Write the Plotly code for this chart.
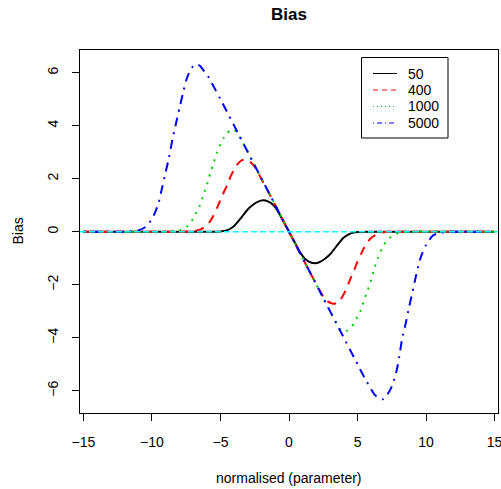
import plotly.graph_objects as go

n50_x = [-15, -6, -5, -4.5, -4.0, -3.5, -3.0, -2.6, -2.25, -1.9, -1.5, -1.25, -1.0, -0.75, -0.5, -0.25, 0,
         0.25, 0.5, 0.75, 1.0, 1.25, 1.5, 1.9, 2.25, 2.6, 3.0, 3.5, 4.0, 4.5, 5, 6, 15]
n50_y = [0, 0, 0.01, 0.06, 0.22, 0.52, 0.85, 1.03, 1.14, 1.19, 1.14, 1.06, 0.92, 0.72, 0.48, 0.24, 0,
         -0.24, -0.48, -0.72, -0.92, -1.06, -1.14, -1.19, -1.14, -1.03, -0.85, -0.52, -0.22, -0.06, -0.01, 0, 0]

n400_x = [-15, -8, -7.0, -6.5, -6.0, -5.75, -5.5, -5.25, -5.0, -4.75, -4.5, -4.25, -4.0, -3.75, -3.5, -3.25,
          -3.0, -2.75, -2.5, -2.25, -1.5, 0, 1.5, 2.25, 2.5, 2.75, 3.0, 3.25, 3.5, 3.75, 4.0, 4.25, 4.5,
          4.75, 5.0, 5.25, 5.5, 5.75, 6.0, 6.5, 7.0, 8, 15]
n400_y = [0, 0, 0.02, 0.08, 0.24, 0.4, 0.62, 0.9, 1.2, 1.5, 1.78, 2.1, 2.35, 2.55, 2.68, 2.72,
          2.68, 2.6, 2.45, 2.22, 1.5, 0, -1.5, -2.22, -2.45, -2.6, -2.68, -2.72, -2.68, -2.57, -2.35,
          -2.08, -1.75, -1.45, -1.12, -0.85, -0.58, -0.38, -0.23, -0.07, -0.01, 0, 0]

n1000_x = [-15, -9, -8.0, -7.5, -7.1, -6.8, -6.5, -6.25, -6.0, -5.75, -5.5, -5.25, -5.0, -4.75, -4.5,
           -4.25, -4.0, -3.75, -3.5, -3.0, -1.5, 0, 1.5, 3.0, 3.5, 3.75, 4.0, 4.25, 4.5, 4.75, 5.0,
           5.25, 5.5, 5.75, 6.0, 6.25, 6.5, 6.8, 7.1, 7.5, 8.0, 9, 15]
n1000_y = [0, 0, 0.05, 0.17, 0.4, 0.68, 1.0, 1.38, 1.75, 2.2, 2.6, 3.0, 3.3, 3.55, 3.73,
           3.84, 3.85, 3.7, 3.49, 3.0, 1.5, 0, -1.5, -3.0, -3.49, -3.68, -3.76, -3.73, -3.62, -3.45, -3.2,
           -2.95, -2.55, -2.2, -1.8, -1.35, -0.98, -0.62, -0.36, -0.17, -0.05, 0, 0]

n5000_x = [-15, -12, -11.5, -11.0, -10.5, -10.0, -9.75, -9.5, -9.25, -9.0, -8.75, -8.5, -8.25, -8.0,
           -7.75, -7.5, -7.25, -7.0, -6.75, -6.5, -6.25, -6.0, -5.5, -5.0, -2.5, 0, 2.5, 5.0, 5.5, 6.0,
           6.25, 6.5, 6.85, 7.1, 7.4, 7.65, 7.9, 8.05, 8.25, 8.5, 8.75, 9.0, 9.25, 9.5, 9.75, 10.0,
           10.5, 11.0, 11.5, 12, 15]
n5000_y = [0, 0, 0.02, 0.05, 0.17, 0.48, 0.76, 1.12, 1.68, 2.25, 2.82, 3.5, 4.08, 4.65,
           5.2, 5.72, 6.05, 6.25, 6.32, 6.26, 6.1, 5.95, 5.48, 5.0, 2.5, 0, -2.5, -5.0, -5.5, -5.95,
           -6.15, -6.26, -6.32, -6.2, -5.95, -5.62, -5.13, -4.7, -4.05, -3.5, -2.87, -2.3, -1.7, -1.15,
           -0.78, -0.5, -0.14, -0.04, -0.01, 0, 0]

series_names = ["50", "400", "1000", "5000"]
series_x = [n50_x, n400_x, n1000_x, n5000_x]
series_y = [n50_y, n400_y, n1000_y, n5000_y]
series_colors = ["#000000", "#FF0000", "#00CD00", "#0000FF"]
series_dash = ["solid", "9px,7px", "2px,6px", "2px,6px,9px,6px"]
legend_dash = ["solid", "5px,4px", "1px,3px", "1px,3px,5px,3px"]

x_ticks = [-15, -10, -5, 0, 5, 10, 15]
y_ticks = [-6, -4, -2, 0, 2, 4, 6]

FONT = "Liberation Sans, Arial, Helvetica, sans-serif"
FS = 14

fig = go.Figure()
for name, xs, ys, col, dash in zip(series_names, series_x, series_y, series_colors, series_dash):
    fig.add_trace(go.Scatter(
        x=xs, y=ys, mode="lines", name=name,
        line=dict(color=col, width=2, dash=dash, shape="spline", smoothing=0.6),
        showlegend=False, hoverinfo="skip"))

# zero reference line
fig.add_trace(go.Scatter(
    x=[-15.25, 15.25], y=[0, 0], mode="lines",
    line=dict(color="#00FFFF", width=1.5, dash="6px,3px"),
    showlegend=False, hoverinfo="skip"))

axis_common = dict(
    showgrid=False, zeroline=False, showline=True, linecolor="black", linewidth=1,
    mirror=True, ticks="outside", ticklen=7, tickwidth=1, tickcolor="black",
    tickfont=dict(family=FONT, size=FS, color="black"), ticklabeloverflow="allow",
    automargin=False,
)

fig.update_layout(
    width=501, height=489,
    margin=dict(l=80, r=3, t=50, b=76, autoexpand=False),
    paper_bgcolor="white", plot_bgcolor="white",
    font=dict(family=FONT, size=FS, color="black"),
    xaxis=dict(range=[-15.25, 15.25], tickvals=x_ticks, ticklabelstandoff=9, **axis_common),
    yaxis=dict(range=[-6.84, 6.86], tickvals=y_ticks, tickangle=-90, ticklabelstandoff=8, **axis_common),
    showlegend=False,
)

# title and axis labels
fig.add_annotation(text="<b>Bias</b>", xref="paper", yref="paper", x=0.5, y=1,
                   yshift=36, showarrow=False, font=dict(family=FONT, size=17),
                   xanchor="center", yanchor="middle")
fig.add_annotation(text="normalised (parameter)", xref="paper", yref="paper", x=0.5, y=0,
                   yshift=-65, showarrow=False, font=dict(family=FONT, size=FS),
                   xanchor="center", yanchor="middle")
fig.add_annotation(text="Bias", xref="paper", yref="paper", x=0, y=0.5, xshift=-63,
                   textangle=-90, showarrow=False, font=dict(family=FONT, size=FS),
                   xanchor="center", yanchor="middle")

# legend box with line samples
leg_left, leg_right = 361.5, 448
leg_top, leg_bottom = 57.5, 138
H = 489
fig.add_shape(type="rect", xref="paper", yref="paper",
              x0=(leg_left - 80) / 418, x1=(leg_right - 80) / 418,
              y0=(H - 76 - leg_bottom) / 363, y1=(H - 76 - leg_top) / 363,
              line=dict(color="black", width=1), fillcolor="white")
row_y = [73.5, 90, 106.5, 123]
for name, col, dash, ry in zip(series_names, series_colors, legend_dash, row_y):
    yp = (H - 76 - ry) / 363
    fig.add_shape(type="line", xref="paper", yref="paper",
                  x0=(373 - 80) / 418, x1=(397 - 80) / 418, y0=yp, y1=yp,
                  line=dict(color=col, width=1, dash=dash))
    fig.add_annotation(text=name, xref="paper", yref="paper", x=(406 - 80) / 418, y=yp,
                       showarrow=False, xanchor="left", yanchor="middle",
                       font=dict(family=FONT, size=FS))

fig.write_html("out.html")
